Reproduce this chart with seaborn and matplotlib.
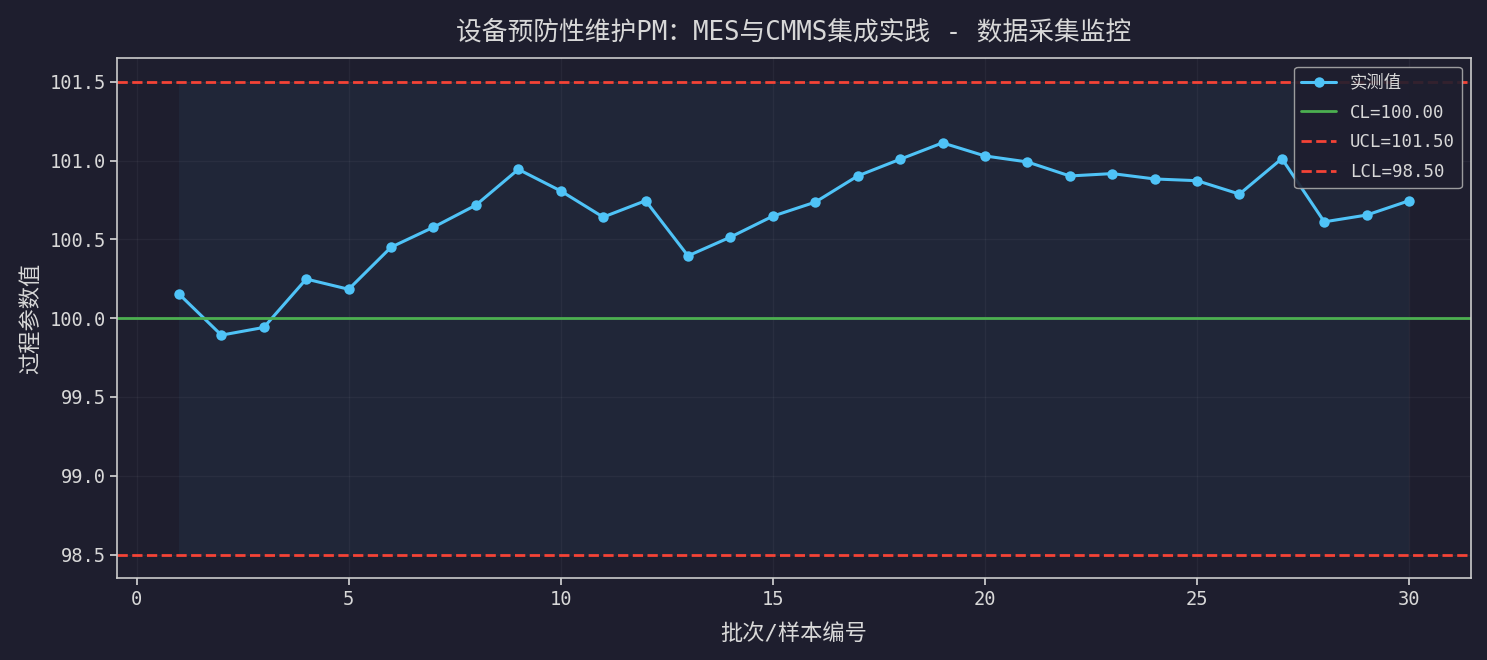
import matplotlib
matplotlib.use("Agg")
import matplotlib.pyplot as plt
import seaborn as sns
import pandas as pd
import numpy as np

samples = list(range(1, 31))
values = [100.153, 99.892, 99.941, 100.248, 100.183, 100.450, 100.577, 100.717, 100.944, 100.807,
          100.641, 100.745, 100.395, 100.514, 100.647, 100.736, 100.902, 101.008, 101.112, 101.029,
          100.991, 100.902, 100.917, 100.883, 100.872, 100.787, 101.012, 100.611, 100.654, 100.745]
CL = 100.0
UCL = 101.5
LCL = 98.5

title = "设备预防性维护PM：MES与CMMS集成实践 - 数据采集监控"
xlabel = "批次/样本编号"
ylabel = "过程参数值"

BG = "#1e1e2e"
TXT = "#d8d8d8"
sns.set_theme(style="dark")
plt.rcParams['font.family'] = ['DejaVu Sans Mono', 'Noto Sans CJK SC']
plt.rcParams['axes.unicode_minus'] = False

df = pd.DataFrame({"sample": samples, "value": values})

fig, ax = plt.subplots(figsize=(14.87, 6.6), dpi=100)
fig.patch.set_facecolor(BG)
ax.set_facecolor(BG)

ax.fill_between(samples, LCL, UCL, color="#4fc3f7", alpha=0.05, linewidth=0)
sns.lineplot(data=df, x="sample", y="value", ax=ax, color="#4fc3f7", linewidth=2.2,
             marker="o", markersize=7.5, markeredgewidth=0, label="实测值")
ax.axhline(CL, color="#4caf50", linewidth=2, label=f"CL={CL:.2f}")
ax.axhline(UCL, color="#f44336", linewidth=2, linestyle="--", label=f"UCL={UCL:.2f}")
ax.axhline(LCL, color="#f44336", linewidth=2, linestyle="--", label=f"LCL={LCL:.2f}")

ax.set_title(title, color=TXT, fontsize=18.5, pad=13)
ax.set_xlabel(xlabel, color=TXT, fontsize=16, labelpad=10)
ax.set_ylabel(ylabel, color=TXT, fontsize=16, labelpad=6)
ax.tick_params(colors=TXT, labelsize=13.5, length=5, width=1.2, left=True, bottom=True)
ax.set_xticks([0, 5, 10, 15, 20, 25, 30])
ax.set_yticks([98.5, 99.0, 99.5, 100.0, 100.5, 101.0, 101.5])
ax.grid(True, color="white", alpha=0.045, linewidth=1)
for s in ax.spines.values():
    s.set_visible(True)
    s.set_color("#cccccc")
    s.set_linewidth(1.2)

leg = ax.legend(loc="upper right", fontsize=12.5, facecolor=BG, edgecolor="#aaaaaa",
                framealpha=0.9, labelcolor=TXT, labelspacing=0.68)

fig.subplots_adjust(left=0.079, right=0.989, top=0.912, bottom=0.124)
fig.savefig("out.png", dpi=100, facecolor=BG)
